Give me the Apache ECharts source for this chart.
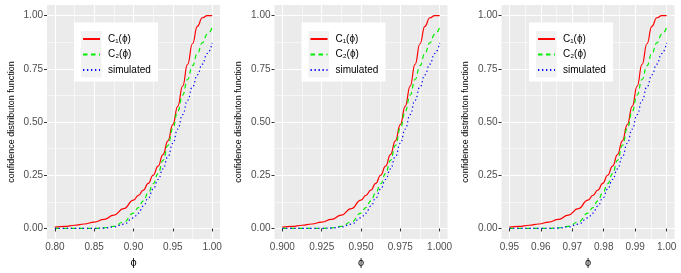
<!DOCTYPE html>
<html><head><meta charset="utf-8">
<script src="https://cdn.jsdelivr.net/npm/echarts@6/dist/echarts.min.js"></script>
<style>html,body{margin:0;padding:0;background:#fff}#c{width:681px;height:273px}</style>
</head><body><div id="c"></div>
<script>
// phi grids for each panel
const phi1 = [0.8, 0.8125, 0.825, 0.8375, 0.85, 0.8625, 0.875, 0.8875, 0.9, 0.90625, 0.9125, 0.91875, 0.925, 0.93125, 0.9375, 0.94375, 0.95, 0.95625, 0.9625, 0.96875, 0.975, 0.98125, 0.9875, 0.99375, 1.0];
const phi2 = [0.9, 0.90625, 0.9125, 0.91875, 0.925, 0.93125, 0.9375, 0.94375, 0.95, 0.953125, 0.95625, 0.959375, 0.9625, 0.965625, 0.96875, 0.971875, 0.975, 0.978125, 0.98125, 0.984375, 0.9875, 0.990625, 0.99375, 0.996875, 1.0];
const phi3 = [0.95, 0.953125, 0.95625, 0.959375, 0.9625, 0.965625, 0.96875, 0.971875, 0.975, 0.9765625, 0.978125, 0.9796875, 0.98125, 0.9828125, 0.984375, 0.9859375, 0.9875, 0.9890625, 0.990625, 0.9921875, 0.99375, 0.9953125, 0.996875, 0.9984375, 1.0];
// confidence distribution values (same shape read in every panel)
const c1Values  = [0.006, 0.010, 0.015, 0.021, 0.030, 0.043, 0.063, 0.093, 0.133, 0.155, 0.180, 0.212, 0.25, 0.293, 0.347, 0.412, 0.488, 0.574, 0.669, 0.771, 0.868, 0.95, 0.99, 1.0, 1.0];
const c2Values  = [0, 0, 0, 0, 0, 0.003, 0.010, 0.030, 0.072, 0.098, 0.13, 0.167, 0.21, 0.258, 0.32, 0.39, 0.47, 0.55, 0.627, 0.70, 0.765, 0.822, 0.872, 0.912, 0.945];
const simValues = [0, 0, 0, 0, 0, 0.002, 0.007, 0.02, 0.05, 0.072, 0.105, 0.142, 0.185, 0.23, 0.28, 0.337, 0.40, 0.467, 0.535, 0.602, 0.665, 0.722, 0.772, 0.822, 0.872];
// tick labels
const xTicks1 = [0.80, 0.85, 0.90, 0.95, 1.00];
const xTicks2 = [0.900, 0.925, 0.950, 0.975, 1.000];
const xTicks3 = [0.95, 0.96, 0.97, 0.98, 0.99, 1.00];
const yTicks = [0, 0.25, 0.50, 0.75, 1.00];
const seriesNames = ['C\u2081(\u03d5)', 'C\u2082(\u03d5)', 'simulated'];
const yTitle = 'confidence distributon function';
const xTitle = '\u03d5';

const FONT = '"Liberation Sans", Arial, sans-serif';
const panels = [
  {phi: phi1, ticks: xTicks1, dec: 2, left: 47, legendLeft: 74},
  {phi: phi2, ticks: xTicks2, dec: 3, left: 274.5, legendLeft: 301.5},
  {phi: phi3, ticks: xTicks3, dec: 2, left: 501.5, legendLeft: 529}
];
function mids(a){const r=[];for(let i=0;i<a.length-1;i++)r.push((a[i]+a[i+1])/2);return r;}

const grid=[], xAxis=[], yAxis=[], series=[], legend=[], graphic=[];
panels.forEach((p,i)=>{
  grid.push({left:p.left, top:5, width:173, height:236, backgroundColor:'#EBEBEB', show:true, borderWidth:0});
  const span = p.ticks[p.ticks.length-1]-p.ticks[0];
  const xmin = p.ticks[0]-span*0.05;
  const xmax = p.ticks[p.ticks.length-1]+span*0.05;
  xAxis.push({type:'value', gridIndex:i, min:xmin, max:xmax, position:'bottom',
    name:xTitle, nameLocation:'middle', nameGap:11, nameTextStyle:{fontSize:11, color:'#000', fontFamily:FONT},
    axisLine:{show:false}, axisTick:{show:true, length:3, lineStyle:{color:'#333333', width:1}, customValues:p.ticks},
    axisLabel:{customValues:p.ticks, formatter:v=>v.toFixed(p.dec), fontSize:10, color:'#4D4D4D', margin:3, fontFamily:FONT},
    splitLine:{show:true, lineStyle:{color:'#FFFFFF', width:1.1}}});
  xAxis.push({type:'value', gridIndex:i, min:xmin, max:xmax, position:'top',
    axisLine:{show:false}, axisTick:{show:false, customValues:mids(p.ticks)}, axisLabel:{show:false, customValues:mids(p.ticks)},
    splitLine:{show:true, lineStyle:{color:'#FFFFFF', width:0.55}}});
  yAxis.push({type:'value', gridIndex:i, min:-0.05, max:1.05, position:'left',
    name:yTitle, nameLocation:'middle', nameGap:31, nameRotate:90, nameTextStyle:{fontSize:9, color:'#000', fontFamily:FONT},
    axisLine:{show:false}, axisTick:{show:true, length:3, lineStyle:{color:'#333333', width:1}, customValues:yTicks},
    axisLabel:{customValues:yTicks, formatter:v=>v.toFixed(2), fontSize:10, color:'#4D4D4D', margin:4, fontFamily:FONT},
    splitLine:{show:true, lineStyle:{color:'#FFFFFF', width:1.1}}});
  yAxis.push({type:'value', gridIndex:i, min:-0.05, max:1.05, position:'right',
    axisLine:{show:false}, axisTick:{show:false, customValues:mids(yTicks)}, axisLabel:{show:false, customValues:mids(yTicks)},
    splitLine:{show:true, lineStyle:{color:'#FFFFFF', width:0.55}}});
  const mk=(name, vals, color, type)=>({name, type:'line', xAxisIndex:2*i, yAxisIndex:2*i,
    data:p.phi.map((x,k)=>[x, vals[k]]), showSymbol:false, symbol:'none', smooth:0.5, smoothMonotone:'x',
    lineStyle:{color, width:1.2, type}, itemStyle:{color}, z:3, silent:true, animation:false});
  series.push(mk(seriesNames[0], c1Values, '#FF0000', 'solid'));
  series.push(mk(seriesNames[1], c2Values, '#00EE00', [4.5,3.5]));
  series.push(mk(seriesNames[2], simValues, '#0000FF', [1.3,2.7]));
  legend.push({orient:'vertical', left:p.legendLeft, top:22, padding:[12,8,7,8], z:6,
    itemWidth:17, itemHeight:10, itemGap:5.5, data:seriesNames, selectedMode:false,
    itemStyle:{color:'rgba(0,0,0,0)', borderColor:'rgba(0,0,0,0)', borderWidth:0, opacity:0},
    textStyle:{fontSize:10, color:'#000', fontFamily:FONT, padding:[0,0,0,3]}});
  graphic.push({type:'rect', z:4, shape:{x:p.legendLeft, y:22.5, width:84, height:59}, style:{fill:'#FFFFFF'}, silent:true});
  graphic.push({type:'rect', z:5, shape:{x:p.legendLeft+7, y:31, width:20.5, height:46.5}, style:{fill:'#F2F2F2'}, silent:true});
});

const chart = echarts.init(document.getElementById('c'), null, {renderer:'canvas'});
chart.setOption({animation:false, backgroundColor:'#FFFFFF', grid, xAxis, yAxis, series, legend, graphic});
</script></body></html>
